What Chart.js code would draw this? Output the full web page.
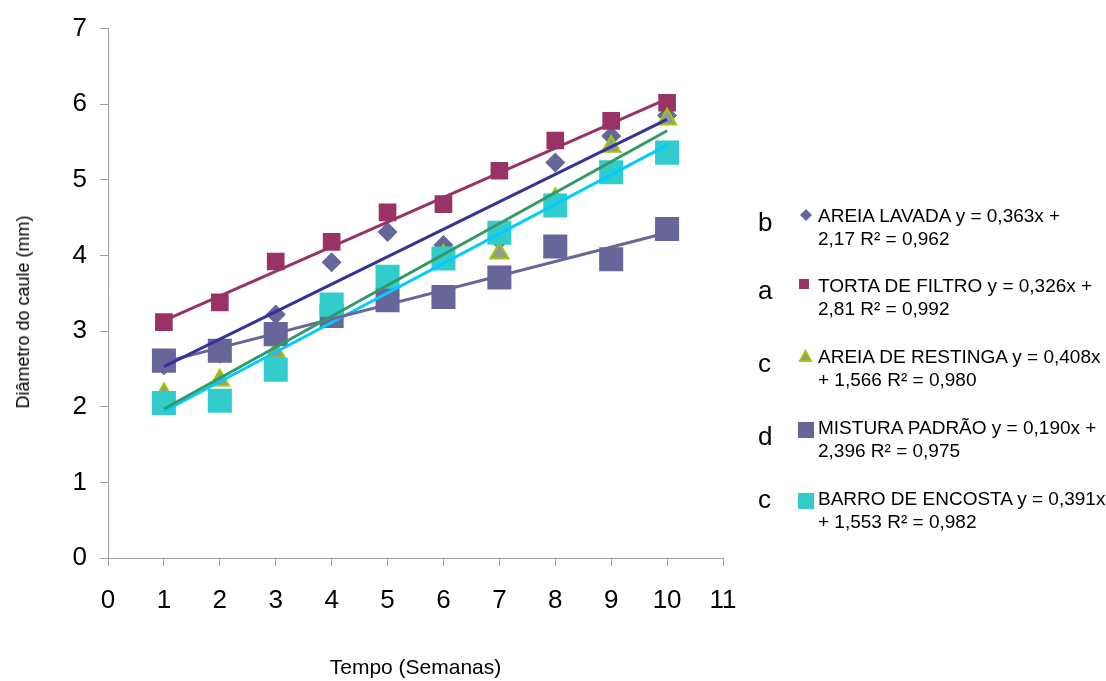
<!DOCTYPE html>
<html>
<head>
<meta charset="utf-8">
<script src="https://cdn.jsdelivr.net/npm/chart.js@4.4.1/dist/chart.umd.min.js"></script>
<style>
  html, body { margin: 0; padding: 0; background: #fff; }
  #wrap { position: relative; width: 1106px; height: 681px; font-family: 'Liberation Sans', Arial, sans-serif; color: #000; }
  #chart { position: absolute; left: 0; top: 0; }
  #ytitle { position: absolute; left: 23px; top: 312px; font-size: 18px; line-height: 20px; white-space: nowrap; transform: translate(-50%, -50%) rotate(-90deg); }
  .txt { position: absolute; left: 818px; font-size: 19px; line-height: 23px; white-space: nowrap; }
  .let { position: absolute; left: 758px; font-size: 26px; line-height: 26px; }
  .mk { position: absolute; }
</style>
</head>
<body>
<div id="wrap">
  <canvas id="chart" width="1106" height="681"></canvas>
  <div id="ytitle">Diâmetro do caule (mm)</div>
  <div id="legend"></div>
</div>
<script>
// Stem diameter per week, one array per substrate
const weeks = [1, 2, 3, 4, 5, 6, 7, 8, 9, 10];
const areiaLavada   = [2.55, 2.70, 3.22, 3.91, 4.31, 4.14, 4.20, 5.23, 5.58, 5.85];
const tortaFiltro   = [3.12, 3.38, 3.92, 4.18, 4.57, 4.68, 5.12, 5.52, 5.78, 6.02];
const areiaRestinga = [2.17, 2.35, 2.72, 3.20, 3.60, 4.00, 4.03, 4.75, 5.44, 5.80];
const misturaPadrao = [2.61, 2.74, 2.96, 3.20, 3.41, 3.45, 3.71, 4.12, 3.95, 4.35];
const barroEncosta  = [2.05, 2.08, 2.49, 3.35, 3.72, 3.96, 4.30, 4.66, 5.10, 5.36];

// Trend lines: value at week 1 and week 10, same series order as below
const trendWeeks = [1, 10];
const trendStart = [2.53, 3.14, 1.97, 2.59, 1.94];
const trendEnd   = [5.80, 6.07, 5.65, 4.30, 5.46];

const seriesNames = ['AREIA LAVADA', 'TORTA DE FILTRO', 'AREIA DE RESTINGA', 'MISTURA PADRÃO', 'BARRO DE ENCOSTA'];
const groupLetters = ['b', 'a', 'c', 'd', 'c'];
const equations = [
  ['y = 0,363x +', '2,17 R² = 0,962'],
  ['y = 0,326x +', '2,81 R² = 0,992'],
  ['y = 0,408x', '+ 1,566 R² = 0,980'],
  ['y = 0,190x +', '2,396 R² = 0,975'],
  ['y = 0,391x', '+ 1,553 R² = 0,982'],
];

const COLORS = {
  axis: '#a0a0a0',
  lavada: '#666699',
  torta: '#993366',
  restingaFill: '#969696',
  restingaEdge: '#99cc00',
  mistura: '#666699',
  barro: '#33cccc',
  trend: ['#333399', '#993366', '#339966', '#666699', '#00ccff'],
};

Chart.defaults.font.family = "'Liberation Sans', Arial, sans-serif";
Chart.defaults.color = '#000';

const pts = ys => ys.map((y, i) => ({ x: weeks[i], y }));

const trendSets = trendStart.map((s, i) => ({
  label: 'trend ' + seriesNames[i],
  data: [{ x: trendWeeks[0], y: s }, { x: trendWeeks[1], y: trendEnd[i] }],
  showLine: true, borderColor: COLORS.trend[i], borderWidth: 3,
  pointRadius: 0, fill: false, order: 0,
}));

const pointSets = [
  { label: seriesNames[0], data: pts(areiaLavada), pointStyle: 'rectRot', pointRadius: 10, backgroundColor: COLORS.lavada, borderWidth: 0, order: 5 },
  { label: seriesNames[1], data: pts(tortaFiltro), pointStyle: 'rect', pointRadius: 12.5, backgroundColor: COLORS.torta, borderWidth: 0, order: 4 },
  { label: seriesNames[2], data: pts(areiaRestinga), pointStyle: 'triangle', pointRadius: 10.5, backgroundColor: COLORS.restingaFill, borderColor: COLORS.restingaEdge, borderWidth: 2, order: 3 },
  { label: seriesNames[3], data: pts(misturaPadrao), pointStyle: 'rect', pointRadius: 17, backgroundColor: COLORS.mistura, borderWidth: 0, order: 2 },
  { label: seriesNames[4], data: pts(barroEncosta), pointStyle: 'rect', pointRadius: 17, backgroundColor: COLORS.barro, borderWidth: 0, order: 1 },
];

new Chart(document.getElementById('chart'), {
  type: 'scatter',
  data: { datasets: [...trendSets, ...pointSets] },
  options: {
    responsive: false, animation: false,
    layout: { padding: { left: 0, right: 383, top: 24, bottom: 0 } },
    plugins: { legend: { display: false }, tooltip: { enabled: false } },
    scales: {
      x: {
        type: 'linear', min: 0, max: 11,
        ticks: { stepSize: 1, color: '#000', font: { size: 26 }, padding: 19 },
        grid: { drawOnChartArea: false, color: COLORS.axis, tickLength: 8 },
        border: { color: COLORS.axis },
        title: { display: true, text: 'Tempo (Semanas)', color: '#000', font: { size: 21 }, padding: 0 },
        afterFit: s => { s.height = 123; },
      },
      y: {
        min: 0, max: 7,
        ticks: { stepSize: 1, color: '#000', font: { size: 26 }, padding: 13 },
        grid: { drawOnChartArea: false, color: COLORS.axis, tickLength: 8 },
        border: { color: COLORS.axis },
        afterFit: s => { s.width = 108; },
      },
    },
  },
});

// legend, drawn as html to the right of the plot
const textTops = [204, 274, 345, 416, 487];
const letterBase = [231, 299, 372, 445, 508];
const markers = [
  `<svg class="mk" style="left:799px;top:208px" width="14" height="14"><polygon points="7,1 13,7 7,13 1,7" fill="${COLORS.lavada}"/></svg>`,
  `<div class="mk" style="left:799px;top:279px;width:10px;height:10px;background:${COLORS.torta}"></div>`,
  `<svg class="mk" style="left:798px;top:349px" width="15" height="14"><polygon points="7.5,2 13,12 2,12" fill="${COLORS.restingaFill}" stroke="${COLORS.restingaEdge}" stroke-width="2"/></svg>`,
  `<div class="mk" style="left:798px;top:422px;width:16px;height:16px;background:${COLORS.mistura}"></div>`,
  `<div class="mk" style="left:798px;top:493px;width:16px;height:16px;background:${COLORS.barro}"></div>`,
];
let html = '';
seriesNames.forEach((name, i) => {
  html += `<div class="let" style="top:${letterBase[i] - 22}px">${groupLetters[i]}</div>`;
  html += markers[i];
  html += `<div class="txt" style="top:${textTops[i]}px">${name} ${equations[i][0]}<br>${equations[i][1]}</div>`;
});
document.getElementById('legend').innerHTML = html;
</script>
</body>
</html>
